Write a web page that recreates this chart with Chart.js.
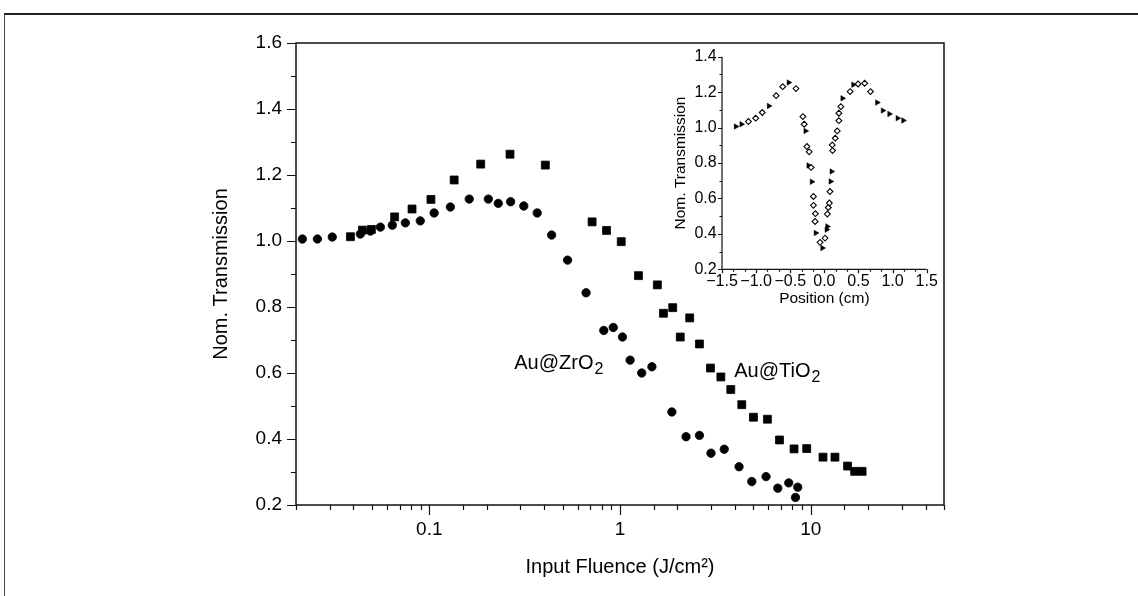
<!DOCTYPE html>
<html><head><meta charset="utf-8">
<script src="https://cdn.jsdelivr.net/npm/chart.js@4/dist/chart.umd.min.js"></script>
<style>
html,body{margin:0;padding:0;background:#fff;}
#wrap{position:relative;width:1138px;height:596px;overflow:hidden;background:#fff;}
#frame{position:absolute;left:4px;top:13px;width:1200px;height:700px;border-top:2px solid #222;border-left:1px solid #444;}
#main{position:absolute;left:0;top:0;}
#inset{position:absolute;left:640px;top:40px;}
</style></head><body>
<div id="wrap"><div id="frame"></div>
<canvas id="main" width="1138" height="596"></canvas>
<canvas id="inset" width="320" height="280"></canvas>
</div>
<script>
// ---- main chart data ----
const zrFluence = [0.0216,0.0259,0.0310,0.0435,0.0491,0.0554,0.0640,0.0749,0.0897,0.106,0.129,0.162,0.204,0.230,0.267,0.313,0.368,0.438,0.531,0.664,0.822,0.922,1.03,1.13,1.30,1.47,1.87,2.22,2.61,3.00,3.52,4.21,4.91,5.83,6.72,7.67,8.55,8.32];
const zrTransmission = [1.006,1.006,1.012,1.021,1.030,1.042,1.048,1.055,1.061,1.085,1.103,1.127,1.127,1.114,1.119,1.106,1.085,1.018,0.942,0.843,0.729,0.738,0.709,0.639,0.600,0.619,0.482,0.407,0.411,0.357,0.369,0.316,0.271,0.286,0.251,0.267,0.254,0.223];
const tiFluence = [0.0386,0.0446,0.0497,0.0658,0.0812,0.102,0.135,0.186,0.265,0.406,0.714,0.850,1.015,1.25,1.57,1.69,1.89,2.07,2.32,2.61,2.98,3.38,3.81,4.35,5.01,5.93,6.86,8.18,9.53,11.6,13.4,15.6,17.0,18.6];
const tiTransmission = [1.013,1.033,1.035,1.073,1.097,1.126,1.185,1.233,1.263,1.230,1.058,1.032,0.998,0.895,0.867,0.781,0.798,0.709,0.767,0.688,0.615,0.588,0.550,0.504,0.466,0.460,0.397,0.370,0.371,0.345,0.345,0.318,0.302,0.302];
const mainXLabels = [0.1, 1, 10];
const mainYTicks = [0.2,0.4,0.6,0.8,1.0,1.2,1.4,1.6];
const seriesLabels = ['Au@ZrO', 'Au@TiO'];
const labelAnchorX = [0.279, 3.97];
const labelAnchorY = [0.612, 0.589];

// ---- inset data ----
const insetOpenPos = [-1.113,-1.006,-0.910,-0.707,-0.610,-0.416,-0.315,-0.295,-0.256,-0.223,-0.194,-0.160,-0.160,-0.131,-0.136,-0.063,0.010,0.044,0.058,0.073,0.082,0.116,0.121,0.160,0.189,0.213,0.213,0.242,0.377,0.494,0.590,0.677];
const insetOpenT = [1.034,1.053,1.085,1.180,1.231,1.220,1.062,1.019,0.893,0.863,0.775,0.611,0.561,0.514,0.470,0.352,0.376,0.512,0.549,0.574,0.639,0.902,0.870,0.940,0.981,1.039,1.081,1.118,1.203,1.246,1.250,1.203];
const insetFilledPos = [-1.297,-1.215,-0.813,-0.523,-0.276,-0.232,-0.184,-0.126,-0.029,0.034,0.044,0.092,0.106,0.266,0.424,0.774,0.857,0.953,1.074,1.157];
const insetFilledT = [1.006,1.019,1.122,1.254,0.981,0.786,0.694,0.405,0.320,0.424,0.442,0.696,0.752,1.165,1.242,1.141,1.096,1.077,1.053,1.040];
const insetXTicks = [-1.5,-1.0,-0.5,0.0,0.5,1.0,1.5];
const insetYTicks = [0.2,0.4,0.6,0.8,1.0,1.2,1.4];

const FONT = "'Liberation Sans', Arial, Helvetica, sans-serif";
const toPts = (xs, ys) => xs.map((v, i) => ({x: v, y: ys[i]}));
const isDecade = v => Math.abs(Math.log10(v) - Math.round(Math.log10(v))) < 1e-6;

function drawSubLabel(ctx, text, sub, x, y, size, subSize) {
  ctx.font = size + 'px ' + FONT;
  ctx.textBaseline = 'alphabetic';
  ctx.textAlign = 'left';
  ctx.fillStyle = '#000';
  ctx.fillText(text, x, y);
  const w = ctx.measureText(text).width;
  ctx.font = subSize + 'px ' + FONT;
  ctx.fillText(sub, x + w + 1, y + 5);
}

const mainPlugin = {
  id: 'mainDecor',
  afterDraw(chart) {
    const {ctx, chartArea: a, scales: {x, y}} = chart;
    ctx.save();
    ctx.strokeStyle = '#111';
    ctx.lineWidth = 1.5;
    ctx.strokeRect(a.left, a.top, a.right - a.left, a.bottom - a.top);
    ctx.lineWidth = 1.2;
    ctx.beginPath();
    x.ticks.forEach(t => {
      const px = Math.round(x.getPixelForValue(t.value)) + 0.5;
      const len = isDecade(t.value) ? 10 : 5;
      ctx.moveTo(px, a.bottom); ctx.lineTo(px, a.bottom + len);
    });
    mainYTicks.forEach((v, i) => {
      const py = Math.round(y.getPixelForValue(v)) + 0.5;
      ctx.moveTo(a.left - 9, py); ctx.lineTo(a.left, py);
      if (i < mainYTicks.length - 1) {
        const pm = Math.round(y.getPixelForValue((v + mainYTicks[i + 1]) / 2)) + 0.5;
        ctx.moveTo(a.left - 5, pm); ctx.lineTo(a.left, pm);
      }
    });
    ctx.stroke();
    seriesLabels.forEach((s, i) => {
      drawSubLabel(ctx, s, '2', x.getPixelForValue(labelAnchorX[i]), y.getPixelForValue(labelAnchorY[i]), 20, 16);
    });
    ctx.restore();
  }
};

new Chart(document.getElementById('main'), {
  type: 'scatter',
  data: {
    datasets: [
      {label: 'Au@ZrO2', data: toPts(zrFluence, zrTransmission), pointStyle: 'circle', pointRadius: 4.2,
       backgroundColor: '#000', borderColor: '#000', borderWidth: 0.8},
      {label: 'Au@TiO2', data: toPts(tiFluence, tiTransmission), pointStyle: 'rect', pointRadius: 5.6,
       backgroundColor: '#000', borderColor: '#000', borderWidth: 0.8}
    ]
  },
  options: {
    responsive: false, animation: false, events: [],
    layout: {padding: {left: 209, right: 194, top: 43, bottom: 17}},
    plugins: {legend: {display: false}, tooltip: {enabled: false}},
    scales: {
      x: {
        type: 'logarithmic', min: 0.02, max: 50,
        grid: {display: false, drawTicks: false}, border: {display: false},
        ticks: {autoSkip: false, maxRotation: 0, padding: 13, color: '#000',
          font: {family: FONT, size: 19},
          callback: v => mainXLabels.includes(Number(v.toPrecision(6))) ? String(Number(v.toPrecision(6))) : ''},
        title: {display: true, text: 'Input Fluence (J/cm²)', color: '#000', padding: 0,
          font: {family: FONT, size: 20}},
        afterFit: s => { s.height = 74; s.paddingLeft = 0; s.paddingRight = 0; }
      },
      y: {
        type: 'linear', min: 0.2, max: 1.6,
        afterBuildTicks: s => { s.ticks = mainYTicks.map(v => ({value: v})); },
        grid: {display: false, drawTicks: false}, border: {display: false},
        ticks: {padding: 14, color: '#000', font: {family: FONT, size: 19}, callback: v => v.toFixed(1)},
        title: {display: true, text: 'Nom. Transmission', color: '#000', padding: 0,
          font: {family: FONT, size: 20}},
        afterFit: s => { s.width = 87; s.paddingTop = 0; s.paddingBottom = 0; }
      }
    }
  },
  plugins: [mainPlugin]
});

const insetPlugin = {
  id: 'insetDecor',
  afterDraw(chart) {
    const {ctx, chartArea: a, scales: {x, y}} = chart;
    ctx.save();
    ctx.strokeStyle = '#111';
    ctx.lineWidth = 1.2;
    ctx.beginPath();
    ctx.moveTo(a.left, a.top); ctx.lineTo(a.left, a.bottom); ctx.lineTo(a.right, a.bottom);
    insetYTicks.forEach((v, i) => {
      const py = Math.round(y.getPixelForValue(v)) + 0.5;
      ctx.moveTo(a.left - 4, py); ctx.lineTo(a.left, py);
      if (i < insetYTicks.length - 1) {
        const pm = Math.round(y.getPixelForValue((v + insetYTicks[i + 1]) / 2)) + 0.5;
        ctx.moveTo(a.left - 2.5, pm); ctx.lineTo(a.left + 0.5, pm);
      }
    });
    insetXTicks.forEach((v, i) => {
      const px = Math.round(x.getPixelForValue(v)) + 0.5;
      ctx.moveTo(px, a.bottom); ctx.lineTo(px, a.bottom + 4);
      if (i < insetXTicks.length - 1) {
        const step = (insetXTicks[i + 1] - v) / 3;
        for (let k = 1; k < 3; k++) {
          const pm = Math.round(x.getPixelForValue(v + k * step)) + 0.5;
          ctx.moveTo(pm, a.bottom); ctx.lineTo(pm, a.bottom + 2.5);
        }
      }
    });
    ctx.stroke();
    ctx.restore();
  }
};

new Chart(document.getElementById('inset'), {
  type: 'scatter',
  data: {
    datasets: [
      {label: 'open', data: toPts(insetOpenPos, insetOpenT), pointStyle: 'rectRot', pointRadius: 2.9,
       backgroundColor: '#fff', borderColor: '#000', borderWidth: 1.1},
      {label: 'filled', data: toPts(insetFilledPos, insetFilledT), pointStyle: 'triangle', rotation: 90, pointRadius: 3.2,
       backgroundColor: '#000', borderColor: '#000', borderWidth: 0.5}
    ]
  },
  options: {
    responsive: false, animation: false, events: [],
    layout: {padding: {left: 31.7, right: 33.3, top: 16.7, bottom: 11.7}},
    plugins: {legend: {display: false}, tooltip: {enabled: false}},
    scales: {
      x: {
        type: 'linear', min: -1.5, max: 1.5,
        afterBuildTicks: s => { s.ticks = insetXTicks.map(v => ({value: v})); },
        grid: {display: false, drawTicks: false}, border: {display: false},
        ticks: {autoSkip: false, maxRotation: 0, padding: 2.5, color: '#000', font: {family: FONT, size: 16},
          callback: v => (v < 0 ? '\u2212' + Math.abs(v).toFixed(1) : v.toFixed(1))},
        title: {display: true, text: 'Position (cm)', color: '#000', padding: 0, font: {family: FONT, size: 15.5}},
        afterFit: s => { s.height = 39; s.paddingLeft = 0; s.paddingRight = 0; }
      },
      y: {
        type: 'linear', min: 0.2, max: 1.4,
        afterBuildTicks: s => { s.ticks = insetYTicks.map(v => ({value: v})); },
        grid: {display: false, drawTicks: false}, border: {display: false},
        ticks: {padding: 5.3, color: '#000', font: {family: FONT, size: 16}, callback: v => v.toFixed(1)},
        title: {display: true, text: 'Nom. Transmission', color: '#000', padding: 0, font: {family: FONT, size: 15.5}},
        afterFit: s => { s.width = 50.3; s.paddingTop = 0; s.paddingBottom = 0; }
      }
    }
  },
  plugins: [insetPlugin]
});
</script>
</body></html>
